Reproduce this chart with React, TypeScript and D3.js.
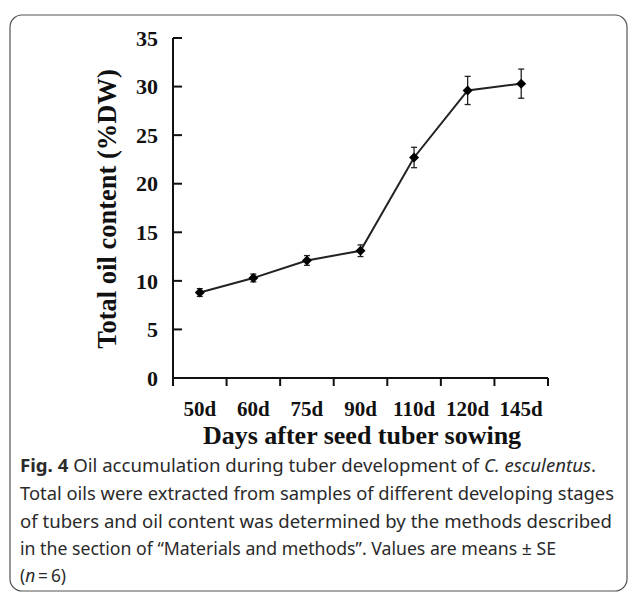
import React from 'react';
import * as d3 from 'd3';

// Data
const days = ['50d', '60d', '75d', '90d', '110d', '120d', '145d'];
const oilMeans = [8.8, 10.3, 12.1, 13.1, 22.7, 29.6, 30.3];
const oilSE = [0.4, 0.4, 0.5, 0.6, 1.05, 1.45, 1.5];
const yTicks = [0, 5, 10, 15, 20, 25, 30, 35];

const W = 629;
const H = 592;

const App = () => {
  // Axis scales
  const x = d3.scaleBand().domain(days).range([173, 548]);
  const y = d3.scaleLinear().domain([0, 35]).range([378, 38]);
  const cx = (d: string) => (x(d) ?? 0) + x.bandwidth() / 2;

  const line = d3
    .line<number>()
    .x((_, i) => cx(days[i]))
    .y((v) => y(v));

  const serif = 'Liberation Serif, Times New Roman, serif';
  const sans = 'Noto Sans, Open Sans, sans-serif';
  const bounds = [...days.map((d) => x(d) ?? 0), x.range()[1]];

  return (
    <svg width={W} height={H} style={{ position: 'absolute', left: 0, top: 0 }}>
      <rect x={0} y={0} width={W} height={H} fill="#fff" />
      {/* caption frame */}
      <rect x={10} y={15} width={617} height={576} rx={12} fill="none" stroke="#555" strokeWidth={1.2} />

      {/* y axis */}
      <line x1={x.range()[0]} x2={x.range()[0]} y1={y(35)} y2={y(0)} stroke="#111" strokeWidth={2} />
      {yTicks.map((t) => (
        <g key={t}>
          <line x1={x.range()[0]} x2={x.range()[0] + 9} y1={y(t)} y2={y(t)} stroke="#111" strokeWidth={2} />
          <text x={158} y={y(t)} dy="0.35em" textAnchor="end" fontFamily={serif} fontWeight="bold" fontSize={22} fill="#111">
            {t}
          </text>
        </g>
      ))}

      {/* x axis */}
      <line x1={x.range()[0]} x2={x.range()[1]} y1={y(0)} y2={y(0)} stroke="#111" strokeWidth={2} />
      {bounds.map((b, i) => (
        <line key={i} x1={b} x2={b} y1={y(0)} y2={y(0) + 8} stroke="#111" strokeWidth={2} />
      ))}
      {days.map((d) => (
        <text key={d} x={cx(d)} y={416} textAnchor="middle" fontFamily={serif} fontWeight="bold" fontSize={21} fill="#111">
          {d}
        </text>
      ))}

      {/* axis titles */}
      <text x={362} y={444} textAnchor="middle" fontFamily={serif} fontWeight="bold" fontSize={26} fill="#111">
        Days after seed tuber sowing
      </text>
      <text
        transform={`translate(116,209) rotate(-90)`}
        textAnchor="middle"
        fontFamily={serif}
        fontWeight="bold"
        fontSize={26.5}
        fill="#111"
      >
        Total oil content (%DW)
      </text>

      {/* series line */}
      <path d={line(oilMeans) ?? ''} fill="none" stroke="#222" strokeWidth={2} />

      {/* error bars */}
      {oilMeans.map((v, i) => {
        const px = cx(days[i]);
        const top = y(v + oilSE[i]);
        const bot = y(v - oilSE[i]);
        return (
          <g key={i} stroke="#222" strokeWidth={1.3}>
            <line x1={px} x2={px} y1={top} y2={bot} />
            <line x1={px - 3} x2={px + 3} y1={top} y2={top} />
            <line x1={px - 3} x2={px + 3} y1={bot} y2={bot} />
          </g>
        );
      })}

      {/* markers */}
      {oilMeans.map((v, i) => {
        const px = cx(days[i]);
        const py = y(v);
        const s = 5;
        return <path key={i} d={`M${px},${py - s}L${px + s},${py}L${px},${py + s}L${px - s},${py}Z`} fill="#000" />;
      })}

      {/* caption */}
      <g fontFamily={sans} fontSize={18} fill="#2a2a2a">
        <text x={20} y={472} textLength={576} lengthAdjust="spacingAndGlyphs">
          <tspan fontWeight="bold">Fig. 4</tspan>
          <tspan>{'  Oil accumulation during tuber development of '}</tspan>
          <tspan fontStyle="italic">C. esculentus</tspan>
          <tspan>.</tspan>
        </text>
        <text x={20} y={500} textLength={594} lengthAdjust="spacingAndGlyphs">
          Total oils were extracted from samples of different developing stages
        </text>
        <text x={20} y={528} textLength={592} lengthAdjust="spacingAndGlyphs">
          of tubers and oil content was determined by the methods described
        </text>
        <text x={20} y={555} textLength={536} lengthAdjust="spacingAndGlyphs">
          {'in the section of \u201cMaterials and methods\u201d. Values are means \u00b1 SE'}
        </text>
        <text x={20} y={582} textLength={46} lengthAdjust="spacingAndGlyphs">
          <tspan>(</tspan>
          <tspan fontStyle="italic">n</tspan>
          <tspan>{'\u2009=\u20096)'}</tspan>
        </text>
      </g>
    </svg>
  );
};

export default App;
